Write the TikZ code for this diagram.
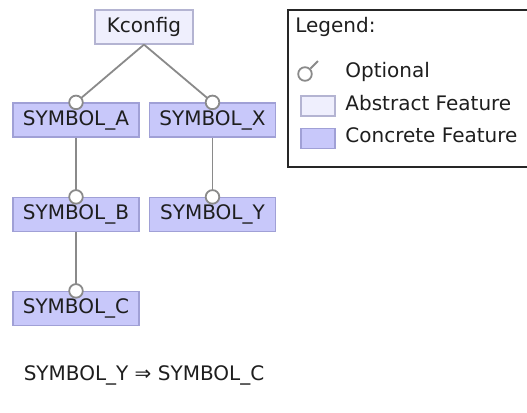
\documentclass[tikz,border=0pt]{standalone}
\usepackage{fontspec}
\setmainfont{DejaVu Sans}

\definecolor{abstractfill}{HTML}{EFEFFD}
\definecolor{abstractdraw}{HTML}{B4B4D2}
\definecolor{concretefill}{HTML}{C8C8FA}
\definecolor{concretedraw}{HTML}{A0A0D6}
\definecolor{linkgray}{HTML}{8A8A8A}
\definecolor{textdark}{HTML}{1E1E1E}

\begin{document}
\begin{tikzpicture}[x=0.5pt, y=-0.5pt, font=\fontsize{10}{12}\selectfont, text=textdark,
    feature/.style={draw=concretedraw, fill=concretefill, line width=0.6pt,
      minimum width=63pt, minimum height=17pt, inner sep=0pt},
    abstract/.style={feature, draw=abstractdraw, fill=abstractfill, minimum width=49pt},
    link/.style={draw=linkgray, line width=0.9pt},
    optional/.style={circle, draw=linkgray, fill=white, line width=0.9pt,
      minimum size=6.8pt, inner sep=0pt},
    legendbox/.style={draw=black!85, line width=0.75pt}]
  \clip (0,0) rectangle (527,413);

  % tree
  \node [abstract] (kconfig) at (144,27) {Kconfig};
  \node [feature] (syma) at (76,120) {SYMBOL\_A};
  \node [feature] (symx) at (212.5,120) {SYMBOL\_X};
  \node [feature] (symb) at (76,214.5) {SYMBOL\_B};
  \node [feature] (symy) at (212.5,214.5) {SYMBOL\_Y};
  \node [feature] (symc) at (76,308.5) {SYMBOL\_C};

  \draw [link] (kconfig.south) -- (syma.north);
  \draw [link] (kconfig.south) -- (symx.north);
  \draw [link] (syma.south) -- (symb.north);
  \draw [link] (symx.south) -- (symy.north);
  \draw [link] (symb.south) -- (symc.north);
  \foreach \f in {syma,symx,symb,symy,symc}
    \node [optional] (\f-opt) at (\f.north) {};

  \node (rule) at (144,375) {SYMBOL\_Y ⇒ SYMBOL\_C};

  % legend
  \draw [legendbox] (288,10) rectangle (560,167);
  \node [anchor=west, inner sep=0pt] (legtitle) at (295,27) {Legend:};
  \node [optional] (legopt) at (305,74) {};
  \coordinate (legtick) at (318,61);
  \draw [link] (legopt.45) -- (legtick);
  \node [anchor=west, inner sep=0pt] (legopttext) at (345,72) {Optional};
  \node [abstract, minimum width=17pt, minimum height=10pt] (legabs) at (318,106) {};
  \node [anchor=west, inner sep=0pt] (legabstext) at (345,103) {Abstract Feature};
  \node [feature, minimum width=17pt, minimum height=10pt] (legcon) at (318,138.5) {};
  \node [anchor=west, inner sep=0pt] (legcontext) at (345,135) {Concrete Feature};
\end{tikzpicture}
\end{document}
